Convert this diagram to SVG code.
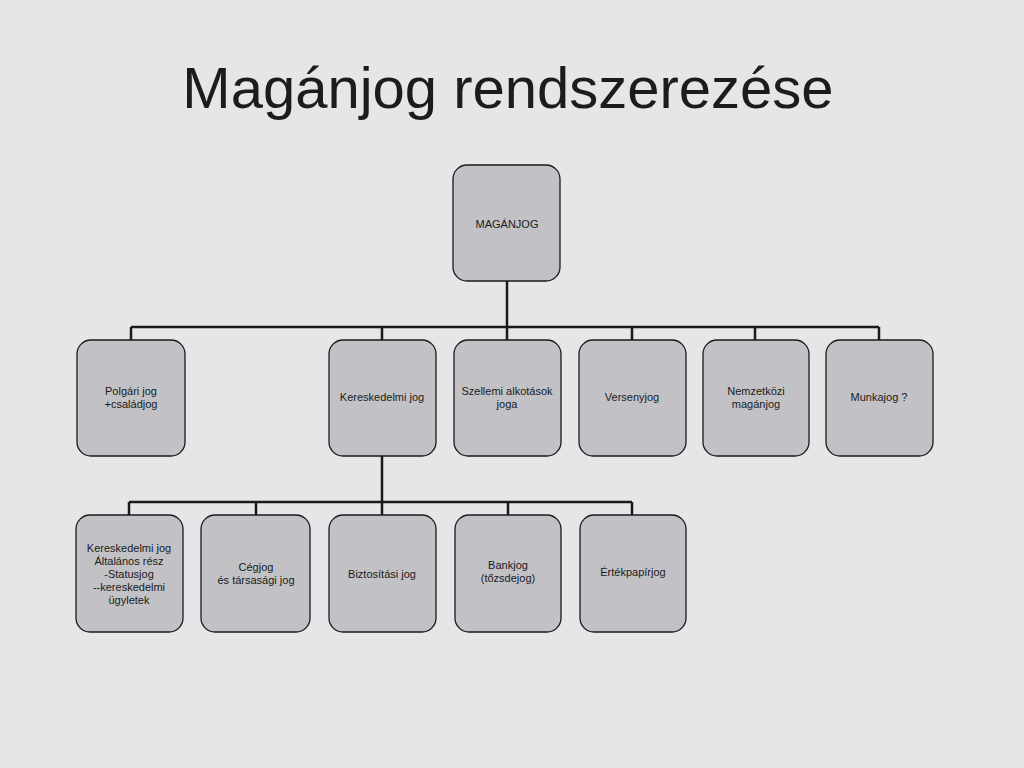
<svg xmlns="http://www.w3.org/2000/svg" width="1024" height="768" viewBox="0 0 1024 768">
<style>
.n{fill:#c2c2c6;stroke:#1a1a1a;stroke-width:1.3}
.t{font-family:"Liberation Sans",Arial,sans-serif;font-size:11px;fill:#1a1a1a;text-anchor:middle}
.c{fill:none;stroke:#1a1a1a;stroke-width:2.5}
</style>
<rect width="1024" height="768" fill="#e6e6e8"/>
<text x="508" y="108" font-family="'Liberation Sans',Arial,sans-serif" font-size="58" fill="#1c1c1c" text-anchor="middle">Magánjog rendszerezése</text>
<g id="connectors">
<path class="c" d="M507 281V327M131 327H879M131 327V340M382 327V340M507 327V340M632 327V340M755 327V340M879 327V340"/>
<path class="c" d="M382 456V502M129 502H632M129 502V515M256 502V515M382 502V515M508 502V515M632 502V515"/>
</g>
<g id="root"><rect x="453" y="165" width="107" height="116" rx="14" class="n" stroke-width="3.5"/><text class="t" x="507" y="228">MAGÁNJOG</text></g>
<g id="polgari"><rect x="77" y="340" width="108" height="116" rx="14" class="n"/><text class="t" x="131" y="395">Polgári jog</text><text class="t" x="131" y="408">+családjog</text></g>
<g id="keresk"><rect x="329" y="340" width="107" height="116" rx="14" class="n"/><text class="t" x="382" y="401">Kereskedelmi jog</text></g>
<g id="szellemi"><rect x="454" y="340" width="107" height="116" rx="14" class="n"/><text class="t" x="507" y="395">Szellemi alkotások</text><text class="t" x="507" y="408">joga</text></g>
<g id="verseny"><rect x="579" y="340" width="107" height="116" rx="14" class="n"/><text class="t" x="632" y="401">Versenyjog</text></g>
<g id="nemzetkozi"><rect x="703" y="340" width="106" height="116" rx="14" class="n"/><text class="t" x="756" y="395">Nemzetközi</text><text class="t" x="756" y="408">magánjog</text></g>
<g id="munkajog"><rect x="826" y="340" width="107" height="116" rx="14" class="n"/><text class="t" x="879" y="401">Munkajog ?</text></g>
<g id="kj-alt"><rect x="76" y="515" width="107" height="117" rx="14" class="n"/><text class="t" x="129" y="552">Kereskedelmi jog</text><text class="t" x="129" y="565">Általános rész</text><text class="t" x="129" y="578">-Statusjog</text><text class="t" x="129" y="591">--kereskedelmi</text><text class="t" x="129" y="604">ügyletek</text></g>
<g id="cegjog"><rect x="201" y="515" width="109" height="117" rx="14" class="n"/><text class="t" x="256" y="571">Cégjog</text><text class="t" x="256" y="584">és társasági jog</text></g>
<g id="biztositasi"><rect x="329" y="515" width="107" height="117" rx="14" class="n"/><text class="t" x="382" y="578">Biztosítási jog</text></g>
<g id="bankjog"><rect x="455" y="515" width="106" height="117" rx="14" class="n"/><text class="t" x="508" y="569">Bankjog</text><text class="t" x="508" y="582">(tőzsdejog)</text></g>
<g id="ertekpapir"><rect x="580" y="515" width="106" height="117" rx="14" class="n"/><text class="t" x="633" y="576">Értékpapírjog</text></g>
</svg>
